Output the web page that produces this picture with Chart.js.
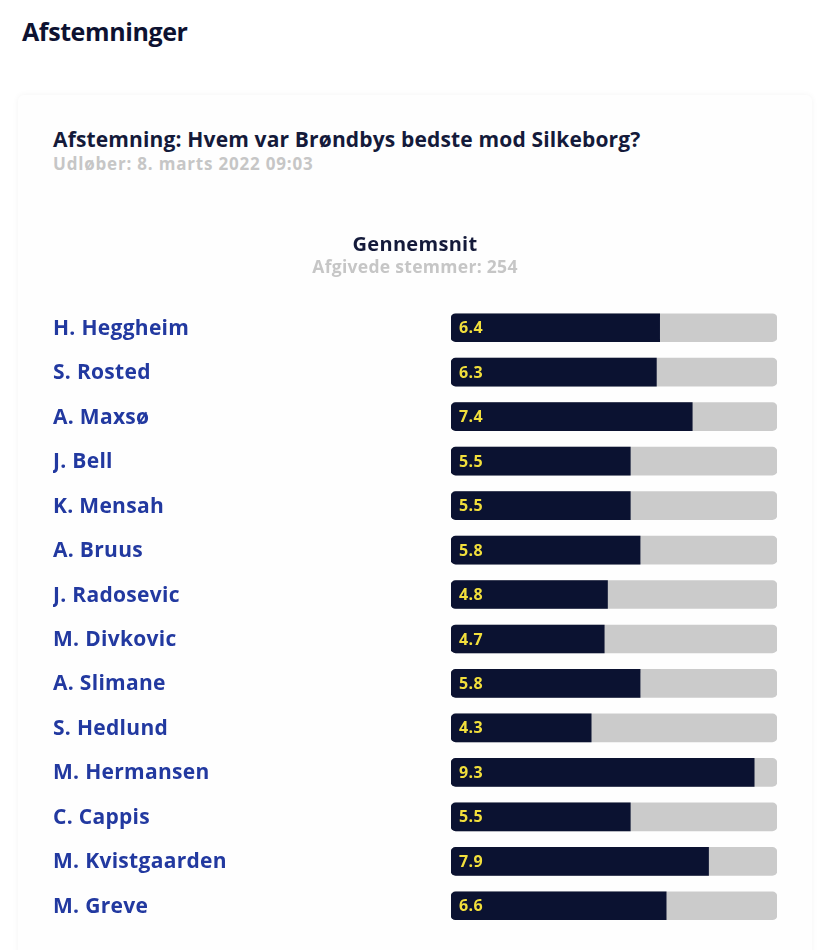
<!DOCTYPE html>
<html>
<head>
<meta charset="utf-8">
<script src="https://cdn.jsdelivr.net/npm/chart.js@4.4.1/dist/chart.umd.min.js"></script>
<style>
  html, body { margin: 0; padding: 0; background: #ffffff; width: 823px; height: 950px; overflow: hidden; }
  body { position: relative; font-family: "Open Sans", sans-serif; }
  #page-title { position: absolute; left: 22px; top: 16px; font-size: 25px; line-height: 30px; font-weight: 700; color: #0d1231; letter-spacing: -0.4px; }
  #card { position: absolute; left: 18px; top: 95px; width: 794px; height: 900px; background: #fefefe; border-radius: 6px; box-shadow: 0 0 6px rgba(0,0,0,0.05); }
  #poll-title { position: absolute; left: 53px; top: 127px; font-size: 21px; line-height: 24px; font-weight: 700; color: #141a3a; letter-spacing: 0.15px; }
  #poll-sub { position: absolute; left: 53px; top: 154px; font-size: 17px; line-height: 20px; font-weight: 700; color: #c6c6c6; letter-spacing: 0.8px; }
  #wrap { position: absolute; left: 0; top: 234px; width: 823px; height: 716px; }
</style>
</head>
<body>
<div id="page-title">Afstemninger</div>
<div id="card"></div>
<div id="poll-title">Afstemning: Hvem var Brøndbys bedste mod Silkeborg?</div>
<div id="poll-sub">Udløber: 8. marts 2022 09:03</div>
<div id="wrap"><canvas id="c"></canvas></div>
<script>
const players = ["H. Heggheim","S. Rosted","A. Maxsø","J. Bell","K. Mensah","A. Bruus","J. Radosevic","M. Divkovic","A. Slimane","S. Hedlund","M. Hermansen","C. Cappis","M. Kvistgaarden","M. Greve"];
const averages = [6.4,6.3,7.4,5.5,5.5,5.8,4.8,4.7,5.8,4.3,9.3,5.5,7.9,6.6];
const scaleMax = [10,10,10,10,10,10,10,10,10,10,10,10,10,10];
const chartTitle = "Gennemsnit";
const chartSubtitle = "Afgivede stemmer: 254";

const FONT = '"Open Sans", sans-serif';

const spacing = {
  id: 'spacing',
  beforeDraw(chart) { chart.ctx.letterSpacing = '0.3px'; }
};

const valueLabels = {
  id: 'valueLabels',
  afterDatasetsDraw(chart) {
    const ctx = chart.ctx;
    const meta = chart.getDatasetMeta(0);
    ctx.save();
    ctx.letterSpacing = '0.4px';
    ctx.font = '700 16px ' + FONT;
    ctx.fillStyle = '#f2df3c';
    ctx.textAlign = 'left';
    ctx.textBaseline = 'middle';
    meta.data.forEach((bar, i) => {
      ctx.fillText(averages[i].toFixed(1), bar.base + 8, bar.y + 1);
    });
    ctx.restore();
  }
};

new Chart(document.getElementById('c'), {
  type: 'bar',
  data: {
    labels: players,
    datasets: [
      {
        data: averages,
        backgroundColor: '#0b1231',
        borderSkipped: false,
        borderRadius: { topLeft: 5, bottomLeft: 5, topRight: 0, bottomRight: 0 },
        barThickness: 28,
        grouped: false
      },
      {
        data: scaleMax,
        backgroundColor: '#cbcbcb',
        borderSkipped: false,
        borderRadius: 5,
        barThickness: 28,
        grouped: false
      }
    ]
  },
  options: {
    indexAxis: 'y',
    responsive: true,
    maintainAspectRatio: false,
    animation: false,
    layout: { padding: { left: 53, right: 46, top: 0, bottom: 22 } },
    scales: {
      x: { min: 0, max: 10, display: false },
      y: {
        grid: { display: false },
        border: { display: false },
        afterFit(scale) { scale.width = 398; },
        ticks: {
          crossAlign: 'far',
          padding: 0,
          labelOffset: 1,
          color: '#2239a0',
          font: { family: FONT, size: 21, weight: '700' }
        }
      }
    },
    plugins: {
      legend: { display: false },
      tooltip: { enabled: false },
      title: {
        display: true,
        text: chartTitle,
        color: '#141a3a',
        font: { family: FONT, size: 20, weight: '700', lineHeight: 1.1 },
        padding: { top: 0, bottom: 3 }
      },
      subtitle: {
        display: true,
        text: chartSubtitle,
        color: '#c6c6c6',
        font: { family: FONT, size: 17.5, weight: '700', lineHeight: 1.0 },
        padding: { top: 0, bottom: 29 }
      }
    }
  },
  plugins: [spacing, valueLabels]
});
</script>
</body>
</html>
